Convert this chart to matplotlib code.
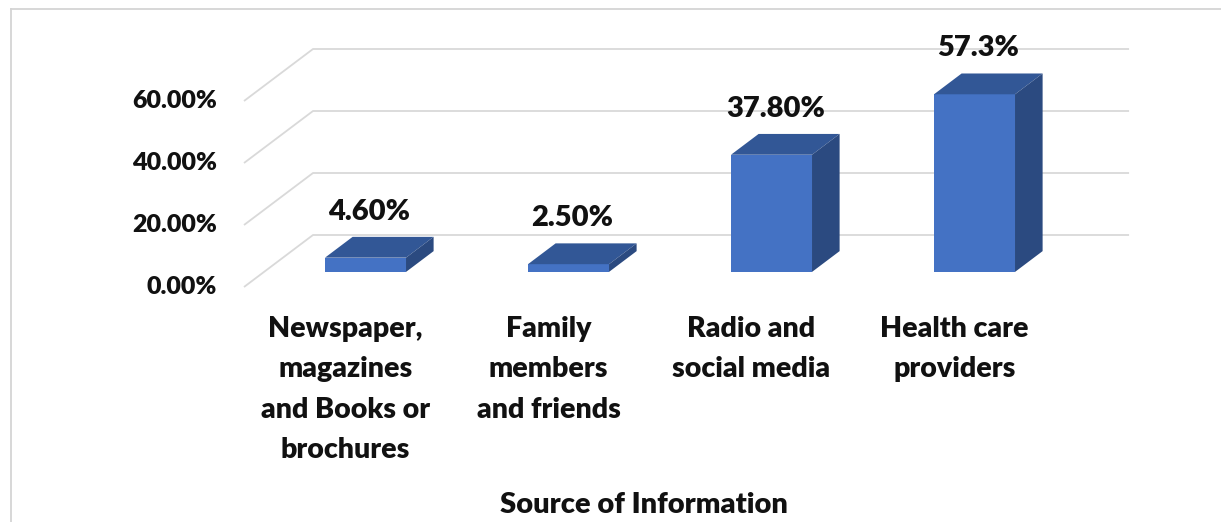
import numpy as np
from matplotlib import pyplot as plt
from matplotlib.patches import Polygon

categories = ["Newspaper,\nmagazines\nand Books or\nbrochures",
              "Family\nmembers\nand friends",
              "Radio and\nsocial media",
              "Health care\nproviders"]
values = [4.6, 2.5, 37.8, 57.3]
value_labels = ["4.60%", "2.50%", "37.80%", "57.3%"]
yticks = [0, 20, 40, 60]
ytick_labels = ["0.00%", "20.00%", "40.00%", "60.00%"]
xlabel = "Source of Information"

plt.rcParams['font.family'] = ['Lato', 'DejaVu Sans']
WEIGHT = 800
INK = '#111111'

W, H = 1221, 522
fig = plt.figure(figsize=(W / 100, H / 100), dpi=100)
ax = fig.add_axes([0, 0, 1, 1])

# oblique projection: one category = 203 px, 1% = 3.1 px
px_cat, px_pct = 203.0, 3.1
x0_px, y0_px = 244.0, 287.0
ax.set_xlim(-0.5 - x0_px / px_cat, -0.5 + (W - x0_px) / px_cat)
ax.set_ylim(-(H - y0_px) / px_pct, y0_px / px_pct)
ax.axis('off')

# floor depth in data units
depth_x = 69 / px_cat
depth_y = 52 / px_pct
n = len(categories)
grid_c = '#d9d9d9'

for v, lab in zip(yticks, ytick_labels):
    xs = [-0.5, -0.5 + depth_x, n - 0.5 + depth_x + 0.02]
    ys = [v, v + depth_y, v + depth_y]
    ax.plot(xs, ys, color=grid_c, lw=1.3, zorder=1, solid_capstyle='butt')
    ax.text(-0.5 - 27 / px_cat, v, lab, ha='right', va='center',
            fontsize=18, fontweight=WEIGHT, color=INK)

# bars sit partway into the floor
front = 0.29
bar_depth = 0.40
bar_w = 81 / px_cat
face_c, top_c, side_c = '#4472c4', '#325796', '#2b4a80'

for i, (v, lab) in enumerate(zip(values, value_labels)):
    ox, oy = front * depth_x, front * depth_y
    bx, by = bar_depth * depth_x, bar_depth * depth_y
    xl, xr = i + ox - bar_w / 2, i + ox + bar_w / 2
    top = oy + v
    ax.add_patch(Polygon([(xl, oy), (xr, oy), (xr, top), (xl, top)],
                         closed=True, fc=face_c, ec='none', zorder=3))
    ax.add_patch(Polygon([(xl, top), (xr, top), (xr + bx, top + by), (xl + bx, top + by)],
                         closed=True, fc=top_c, ec='none', zorder=3))
    ax.add_patch(Polygon([(xr, oy), (xr + bx, oy + by), (xr + bx, top + by), (xr, top)],
                         closed=True, fc=side_c, ec='none', zorder=3))
    ax.text(i + ox + 4 / px_cat, top + by + 25 / px_pct, lab, ha='center', va='center',
            fontsize=21, fontweight=WEIGHT, color=INK, zorder=4)

for i, cat in enumerate(categories):
    ax.text(i, -29 / px_pct, cat, ha='center', va='top', fontsize=20.5,
            fontweight=WEIGHT, color=INK, linespacing=1.69)

ax.text((n - 1) / 2 + (645 - 651) / px_cat, -(505 - y0_px) / px_pct, xlabel,
        ha='center', va='center', fontsize=21, fontweight=WEIGHT, color=INK)

# frame around the chart area
border_c = '#d4d4d4'
fig.add_artist(plt.Line2D([11 / W, 11 / W], [0, 1 - 9 / H], color=border_c, lw=1.3))
fig.add_artist(plt.Line2D([11 / W, 1], [1 - 9 / H, 1 - 9 / H], color=border_c, lw=1.3))

fig.savefig('out.png', dpi=100, facecolor='white')
